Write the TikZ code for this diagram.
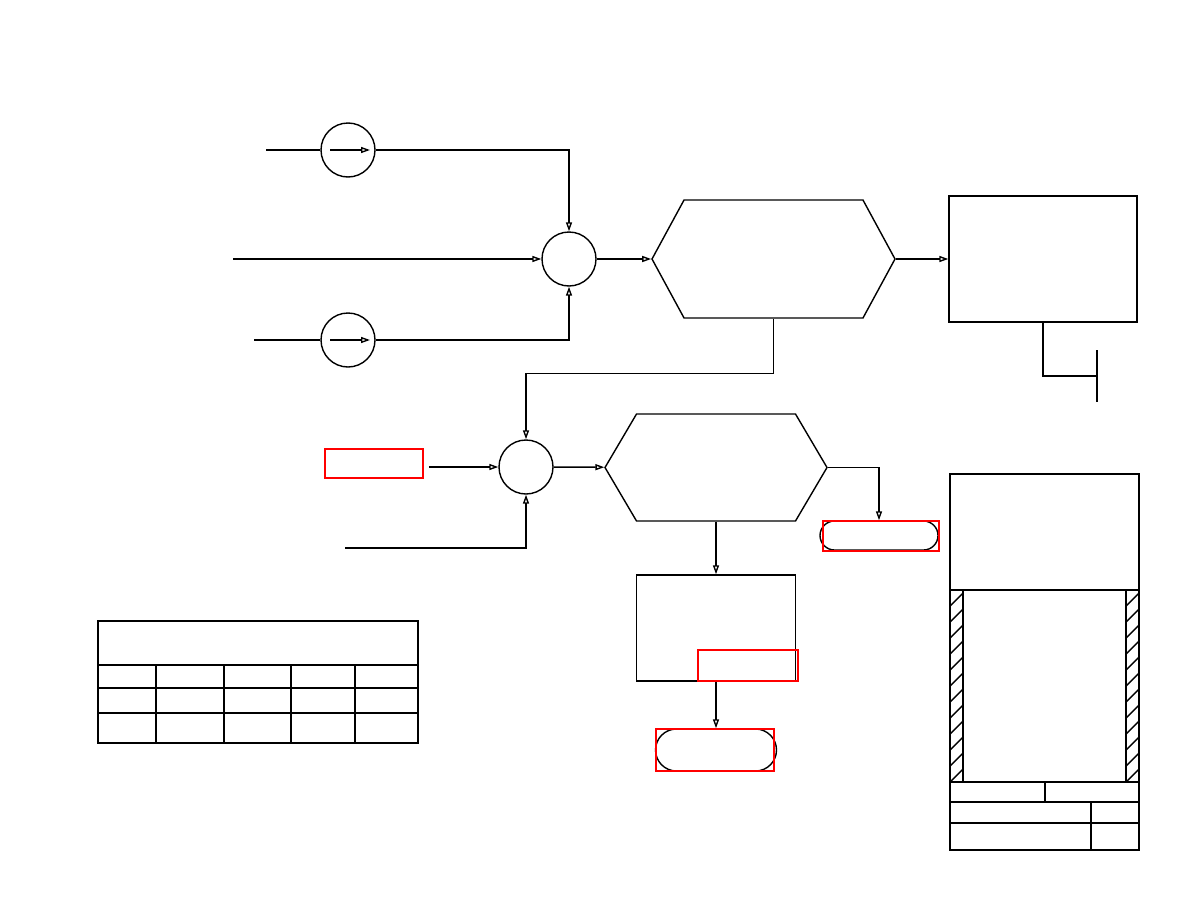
\documentclass[tikz,border=0pt]{standalone}
\usetikzlibrary{arrows.meta,shapes.symbols,shapes.misc}
\begin{document}
\begin{tikzpicture}[x=1pt,y=-1pt,line width=1.4pt,
  arr/.style={-{Triangle[open,length=9pt,width=6pt]}},
  sumpt/.style={draw,circle,minimum size=54pt,inner sep=0pt},
  hexa/.style={draw,signal,signal to=west and east,inner sep=0pt},
  blk/.style={draw,rectangle,inner sep=0pt},
  term/.style={draw,rounded rectangle,inner sep=0pt},
  redbox/.style={draw=red,rectangle,inner sep=0pt,line width=1.5pt}]
\useasboundingbox (0,0) rectangle (1188,918);
% upper loop
\node[sumpt] (a1) at (348,150) {};
\node[sumpt] (a2) at (348,340) {};
\node[sumpt] (s1) at (569,259) {};
\node[hexa,minimum width=243pt,minimum height=118pt,signal pointer angle=123] (h1) at (773.5,259) {};
\node[blk,minimum width=188pt,minimum height=126pt] (r1) at (1043,259) {};
\coordinate (in1) at (266,150);
\coordinate (in2) at (233,259);
\coordinate (in3) at (254,340);
\coordinate (g1) at (1097,376);
\draw[line width=1.8pt] (in1) -- (a1);
\draw[line width=1.8pt] (in3) -- (a2);
\draw[arr] ([xshift=-18pt]a1.center) -- ([xshift=22pt]a1.center);
\draw[arr] ([xshift=-18pt]a2.center) -- ([xshift=22pt]a2.center);
\draw[arr] (a1) -| (s1);
\draw[arr] (a2) -| (s1);
\draw[arr] (in2) -- (s1);
\draw[arr] (s1) -- (h1);
\draw[arr] (h1) -- (r1);
\draw (r1.south) |- (g1);
\draw[line width=2.6pt] ([yshift=26pt]g1) -- ([yshift=-26pt]g1);
% lower loop
\node[sumpt] (s2) at (526,467) {};
\node[redbox,minimum width=98pt,minimum height=29pt] (rb1) at (374,463.5) {};
\node[hexa,minimum width=222pt,minimum height=107pt,signal pointer angle=119] (h2) at (716,467.5) {};
\node[blk,minimum width=159pt,minimum height=106pt] (r2) at (716,628) {};
\node[redbox,minimum width=100pt,minimum height=31pt] (rb2) at (748,665.5) {};
\node[term,minimum width=118pt,minimum height=29pt] (t1) at (879,535.5) {};
\node[redbox,minimum width=116pt,minimum height=30pt] at (881,536) {};
\node[term,minimum width=121pt,minimum height=42pt] (t2) at (716,750) {};
\node[redbox,minimum width=118pt,minimum height=42pt] at (715,750) {};
\coordinate (in4) at (345,548);
\draw[arr] (h1.south) -- ++(0,55) -| (s2);
\draw[arr] ([xshift=5pt]rb1.east |- s2) -- (s2);
\draw[arr] (in4) -| (s2);
\draw[arr] (s2) -- (h2);
\draw[arr] (h2.east) -| (t1);
\draw[arr] (h2) -- (r2);
\draw[arr] (r2) -- (t2);
% table
\draw[line width=2pt] (98,621) rectangle (418,743);
\draw[line width=2pt] (98,665) -- (418,665);
\foreach \y in {688,713} \draw[line width=1.8pt] (98,\y) -- (418,\y);
\foreach \x in {156,224,291,355} \draw[line width=1.8pt] (\x,665) -- (\x,743);
% side panel
\draw[line width=2pt] (950,474) rectangle (1139,850);
\draw (950,590) -- (1139,590);
\draw (963,590) -- (963,782);
\draw (1126,590) -- (1126,782);
\draw (950,782) -- (1139,782);
\draw (1045,782) -- (1045,802);
\draw[line width=2pt] (950,802) -- (1139,802);
\draw[line width=2pt] (950,823) -- (1139,823);
\draw (1091,802) -- (1091,850);
\foreach \sx in {950,1126} {
  \begin{scope}
    \clip (\sx,590) rectangle ({\sx+13},782);
    \foreach \k in {1,...,13} \draw ({\sx},{590+16*\k}) -- ++(14,-14);
  \end{scope}
}
\end{tikzpicture}
\end{document}
